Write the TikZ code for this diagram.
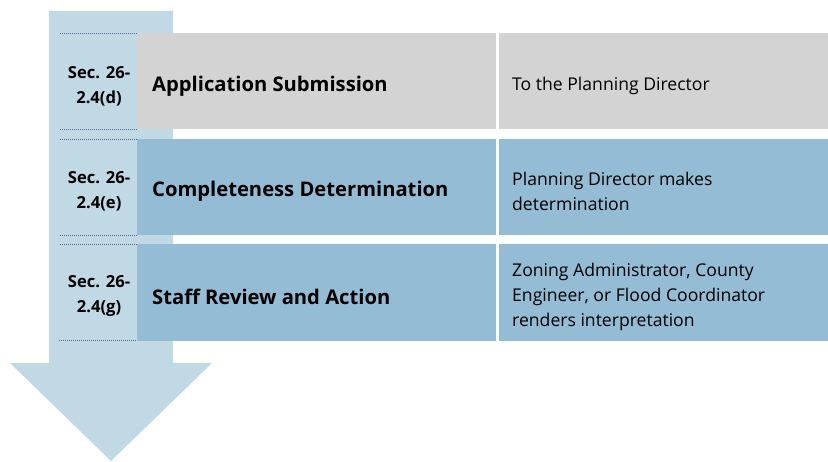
\documentclass[tikz,border=0pt]{standalone}
\usepackage{fontspec}
\setmainfont{Open Sans}
\definecolor{arrowblue}{HTML}{C0D9E5}
\definecolor{boxgray}{HTML}{D3D3D3}
\definecolor{boxblue}{HTML}{94BDD5}
\definecolor{dotcol}{HTML}{4F6B8A}
\begin{document}
\begin{tikzpicture}[x=1pt,y=-1pt,
  title/.style={font=\fontsize{20.2}{24}\selectfont\bfseries,anchor=west,inner sep=0pt},
  desc/.style={font=\fontsize{17.6}{25}\selectfont,anchor=west,align=left,inner sep=0pt},
  seclab/.style={font=\fontsize{16.6}{25}\selectfont\bfseries,align=center,inner sep=0pt},
  sep/.style={dotcol,line width=1pt,dash pattern=on 1pt off 1pt}]
\useasboundingbox (0,0) rectangle (828,462);
% big arrow
\fill[arrowblue] (49,11) -- (173,11) -- (173,363) -- (212,363) -- (111,461) -- (10,363) -- (49,363) -- cycle;
% rows
\fill[boxgray] (137,33) rectangle (496,129);
\fill[boxgray] (499,33) rectangle (828,129);
\fill[boxblue] (137,139) rectangle (496,235);
\fill[boxblue] (499,139) rectangle (828,235);
\fill[boxblue] (137,244) rectangle (496,341);
\fill[boxblue] (499,244) rectangle (828,341);
% dotted separators
\coordinate (d1a) at (60,34); \coordinate (d1b) at (137,34);
\coordinate (d2a) at (60,130); \coordinate (d2b) at (137,130);
\coordinate (d3a) at (60,139.5); \coordinate (d3b) at (137,139.5);
\coordinate (d4a) at (60,235.5); \coordinate (d4b) at (137,235.5);
\coordinate (d5a) at (60,245); \coordinate (d5b) at (137,245);
\coordinate (d6a) at (59,341); \coordinate (d6b) at (137,341);
\draw[sep] (d1a) -- (d1b);
\draw[sep] (d2a) -- (d2b);
\draw[sep] (d3a) -- (d3b);
\draw[sep] (d4a) -- (d4b);
\draw[sep] (d5a) -- (d5b);
\draw[sep] (d6a) -- (d6b);
% labels
\node[seclab] (s1) at (99,86) {Sec. 26-\\2.4(d)};
\node[seclab] (s2) at (99,191) {Sec. 26-\\2.4(e)};
\node[seclab] (s3) at (99,296) {Sec. 26-\\2.4(g)};
\node[title] (t1) at (152,86) {Application Submission};
\node[title] (t2) at (152,191) {Completeness Determination};
\node[title] (t3) at (152,297) {Staff Review and Action};
\node[desc] (r1) at (512,86) {To the Planning Director};
\node[desc] (r2) at (512,191) {Planning Director makes\\determination};
\node[desc] (r3) at (512,297) {Zoning Administrator, County\\Engineer, or Flood Coordinator\\renders interpretation};
\end{tikzpicture}
\end{document}
